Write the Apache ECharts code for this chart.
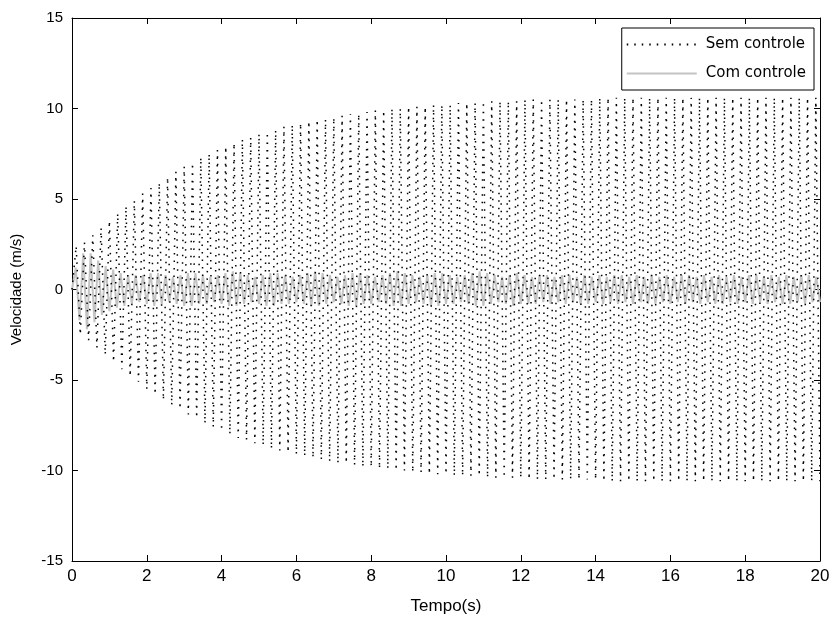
<!DOCTYPE html>
<html>
<head>
<meta charset="utf-8">
<script src="https://cdn.jsdelivr.net/npm/echarts@6/dist/echarts.min.js"></script>
<style>html,body{margin:0;padding:0;background:#fff}#c{width:833px;height:620px}</style>
</head>
<body>
<div id="c"></div>
<script>
// X axis ticks
const xTicks = [0, 2, 4, 6, 8, 10, 12, 14, 16, 18, 20];
const yTicks = [-15, -10, -5, 0, 5, 10, 15];

// "Sem controle": peaks/troughs sampled every 20/180 s from t=0 to t=20 (9 per second)
const semSpan = 20;
const semValues = [
  0, 2.4, -2.5, 2.6, -2.8, 3.0, -3.2, 3.4, -3.6,
  3.8, -4.0, 4.2, -4.4, 4.6, -4.8, 4.9, -5.1, 5.3,
  -5.5, 5.6, -5.8, 5.9, -6.1, 6.2, -6.4, 6.5, -6.6,
  6.8, -6.9, 7.0, -7.1, 7.3, -7.4, 7.5, -7.6, 7.7,
  -7.8, 7.9, -8.0, 8.1, -8.2, 8.3, -8.3, 8.4, -8.5,
  8.6, -8.6, 8.7, -8.8, 8.8, -8.9, 9.0, -9.0, 9.1,
  -9.1, 9.2, -9.2, 9.3, -9.3, 9.4, -9.4, 9.4, -9.5,
  9.5, -9.6, 9.6, -9.6, 9.7, -9.7, 9.7, -9.8, 9.8,
  -9.8, 9.9, -9.9, 9.9, -9.9, 10.0, -10.0, 10.0, -10.0,
  10.1, -10.1, 10.1, -10.1, 10.1, -10.2, 10.2, -10.2, 10.2,
  -10.2, 10.2, -10.3, 10.3, -10.3, 10.3, -10.3, 10.3, -10.3,
  10.4, -10.4, 10.4, -10.4, 10.4, -10.4, 10.4, -10.4, 10.4,
  -10.4, 10.5, -10.5, 10.5, -10.5, 10.5, -10.5, 10.5, -10.5,
  10.5, -10.5, 10.5, -10.5, 10.5, -10.5, 10.5, -10.5, 10.5,
  -10.5, 10.6, -10.6, 10.6, -10.6, 10.6, -10.6, 10.6, -10.6,
  10.6, -10.6, 10.6, -10.6, 10.6, -10.6, 10.6, -10.6, 10.6,
  -10.6, 10.6, -10.6, 10.6, -10.6, 10.6, -10.6, 10.6, -10.6,
  10.6, -10.6, 10.6, -10.6, 10.6, -10.6, 10.6, -10.6, 10.6,
  -10.6, 10.6, -10.6, 10.6, -10.6, 10.6, -10.6, 10.6, -10.6,
  10.6, -10.6, 10.6, -10.6, 10.6, -10.6, 10.6, -10.6, 10.6,
  -10.6
];

// "Com controle": peaks/troughs sampled every 0.1 s from t=0 to t=20
const comSpan = 20;
const comValues = [
  0, 1.2, -1.7, 2.0, -2.2, 2.0, -1.8, 1.6, -1.4, 1.3,
  -1.2, 1.1, -1.0, 0.9, -0.9, 0.8, -0.8, 0.8, -0.7, 0.8,
  -0.8, 0.9, -0.9, 0.9, -0.8, 0.8, -0.7, 0.7, -0.8, 0.8,
  -0.9, 0.9, -0.9, 0.9, -0.8, 0.8, -0.8, 0.7, -0.7, 0.8,
  -0.8, 0.9, -0.9, 1.0, -0.9, 0.9, -0.8, 0.8, -0.7, 0.7,
  -0.8, 0.8, -0.9, 0.9, -0.9, 0.9, -0.8, 0.8, -0.8, 0.7,
  -0.7, 0.8, -0.8, 0.9, -0.9, 1.0, -0.9, 0.9, -0.8, 0.8,
  -0.7, 0.7, -0.8, 0.8, -0.9, 0.9, -0.9, 0.9, -0.8, 0.8,
  -0.8, 0.7, -0.7, 0.8, -0.8, 0.9, -0.9, 1.0, -0.9, 0.9,
  -0.8, 0.8, -0.7, 0.7, -0.8, 0.8, -0.9, 0.9, -0.9, 0.9,
  -0.8, 0.8, -0.8, 0.7, -0.7, 0.8, -0.8, 0.9, -0.9, 1.0,
  -0.9, 0.9, -0.8, 0.8, -0.7, 0.7, -0.8, 0.8, -0.9, 0.9,
  -0.8, 0.8, -0.8, 0.7, -0.8, 0.8, -0.7, 0.8, -0.8, 0.7,
  -0.7, 0.8, -0.8, 0.8, -0.7, 0.7, -0.8, 0.8, -0.8, 0.7,
  -0.7, 0.8, -0.8, 0.7, -0.7, 0.8, -0.8, 0.8, -0.7, 0.7,
  -0.8, 0.8, -0.7, 0.7, -0.8, 0.8, -0.8, 0.7, -0.7, 0.8,
  -0.8, 0.7, -0.7, 0.8, -0.8, 0.8, -0.7, 0.7, -0.8, 0.8,
  -0.7, 0.7, -0.8, 0.8, -0.8, 0.7, -0.7, 0.8, -0.8, 0.7,
  -0.7, 0.8, -0.8, 0.8, -0.7, 0.7, -0.8, 0.8, -0.7, 0.7,
  -0.8, 0.8, -0.8, 0.7, -0.7, 0.8, -0.8, 0.8, -0.7, 0.7,
  -0.7
];

const seriesNames = ['Sem controle', 'Com controle'];
const xName = 'Tempo(s)';
const yName = 'Velocidade (m/s)';

function toPairs(values, span) {
  const n = values.length - 1;
  return values.map((v, i) => [i * span / n, v]);
}

const font = 'Liberation Sans, Arial, sans-serif';
const chart = echarts.init(document.getElementById('c'), null, {renderer: 'canvas'});
function axisCommon() {
  return {
    axisLine: {show: true, onZero: false, lineStyle: {color: '#000', width: 1}},
    axisTick: {show: true, inside: true, length: 6, lineStyle: {color: '#000'}},
    splitLine: {show: false}
  };
}
chart.setOption({
  animation: false,
  backgroundColor: '#fff',
  grid: {left: 72, right: 13, top: 18, bottom: 57, containLabel: false},
  legend: {
    right: 19, top: 28, orient: 'vertical',
    itemWidth: 70, itemHeight: 12, itemGap: 14,
    padding: [9, 8, 9, 4],
    borderColor: '#000', borderWidth: 1, backgroundColor: '#fff',
    textStyle: {fontFamily: 'DejaVu Sans, sans-serif', fontSize: 15, color: '#000', padding: [0, 0, 0, 4]},
    itemStyle: {opacity: 0},
    data: seriesNames
  },
  xAxis: [
    Object.assign({type: 'value', min: xTicks[0], max: xTicks[xTicks.length - 1], interval: 2,
      name: xName, nameLocation: 'middle', nameGap: 37,
      nameTextStyle: {fontFamily: font, fontSize: 17, color: '#000'},
      axisLabel: {fontFamily: font, fontSize: 17, color: '#000', margin: 7}}, axisCommon()),
    Object.assign({type: 'value', position: 'top', min: xTicks[0], max: xTicks[xTicks.length - 1], interval: 2,
      axisLabel: {show: false}}, axisCommon())
  ],
  yAxis: [
    Object.assign({type: 'value', min: yTicks[0], max: yTicks[yTicks.length - 1], interval: 5,
      name: yName, nameLocation: 'middle', nameGap: 48,
      nameTextStyle: {fontFamily: font, fontSize: 15, color: '#000'},
      axisLabel: {fontFamily: font, fontSize: 15, color: '#000', margin: 9}}, axisCommon()),
    Object.assign({type: 'value', position: 'right', min: yTicks[0], max: yTicks[yTicks.length - 1], interval: 5,
      axisLabel: {show: false}}, axisCommon())
  ],
  series: [
    {
      name: seriesNames[0], type: 'line', z: 3,
      data: toPairs(semValues, semSpan),
      showSymbol: false, symbol: 'none',
      lineStyle: {color: '#000', width: 1.5, type: [1.5, 6]},
      itemStyle: {color: '#000'}
    },
    {
      name: seriesNames[1], type: 'line', z: 2,
      data: toPairs(comValues, comSpan),
      showSymbol: false, symbol: 'none',
      lineStyle: {color: '#c4c4c4', width: 2},
      itemStyle: {color: '#c4c4c4'}
    }
  ]
});
</script>
</body>
</html>
